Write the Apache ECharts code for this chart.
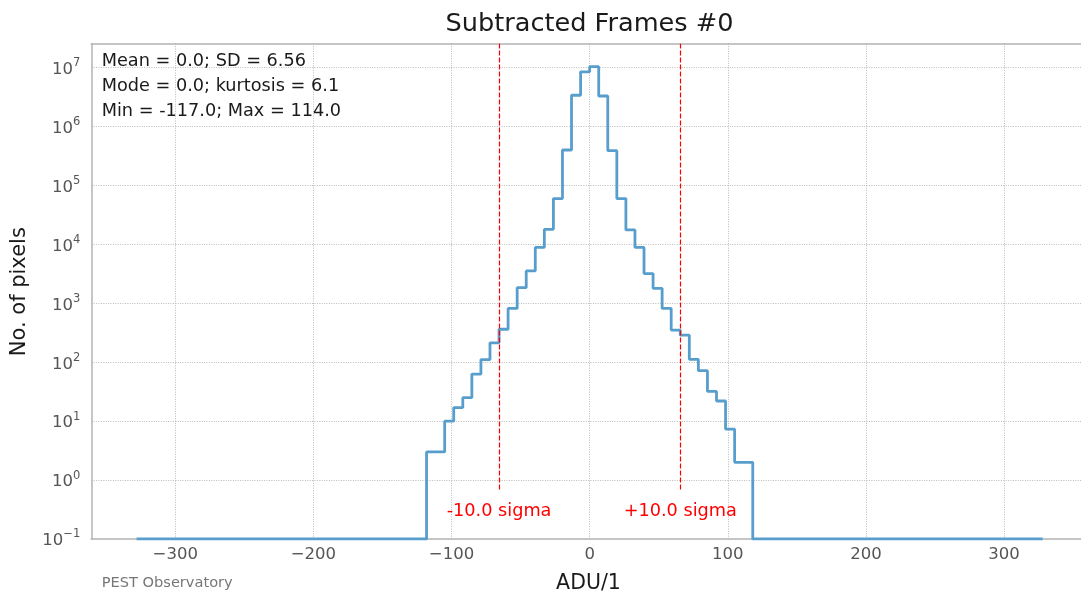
<!DOCTYPE html>
<html>
<head>
<meta charset="utf-8">
<script src="https://cdn.jsdelivr.net/npm/echarts@6/dist/echarts.min.js"></script>
<style>
html,body{margin:0;padding:0;background:#fff;}
#chart{width:1081px;height:594px;}
</style>
</head>
<body>
<div id="chart"></div>
<script>
// Histogram range (±50 sigma) and bin edges of the non-empty region
const histRange = [-328, 328];
const binEdges = [-118.08, -111.52, -104.96, -98.40, -91.84, -85.28, -78.72, -72.16, -65.60, -59.04,
  -52.48, -45.92, -39.36, -32.80, -26.24, -19.68, -13.12, -6.56, 0, 6.56, 13.12, 19.68, 26.24,
  32.80, 39.36, 45.92, 52.48, 59.04, 65.60, 72.16, 78.72, 85.28, 91.84, 98.40, 104.96, 111.52, 118.08];
// Pixel counts per bin
const binCounts = [3, 3, 10, 17, 25, 63, 111, 214, 363, 820, 1840, 3550, 8900, 18000, 60000, 400000,
  3400000, 8500000, 10400000, 3300000, 390000, 60000, 17600, 8900, 3200, 1800, 820, 352, 288, 112,
  72, 32, 22, 7.3, 2, 2];
const emptyLevel = 0.1;           // empty bins drawn on the log floor
const sigmaLines = [-65.6, 65.6]; // ±10 sigma
const sigmaLabels = ['-10.0 sigma', '+10.0 sigma'];
const statsLines = ['Mean = 0.0; SD = 6.56', 'Mode = 0.0; kurtosis = 6.1', 'Min = -117.0; Max = 114.0'];
const xLimits = [-360.8, 360.8];
const yLimits = [0.1, 2.55e7];

const FONT = 'DejaVu Sans';
const AXIS_COLOR = '#b3b3b3';

const stepData = [[histRange[0], emptyLevel]];
for (let i = 0; i < binCounts.length; i++) stepData.push([binEdges[i], binCounts[i]]);
stepData.push([binEdges[binEdges.length - 1], emptyLevel]);
stepData.push([histRange[1], emptyLevel]);

const chart = echarts.init(document.getElementById('chart'), null, {renderer: 'canvas'});

function minus(v) { return v < 0 ? '\u2212' + (-v) : String(v); }

chart.setOption({
  animation: false,
  backgroundColor: '#ffffff',
  grid: {
    left: 91.3, right: -7, top: 43.7, bottom: 55,
    show: false, containLabel: false, outerBoundsMode: 'none'
  },
  xAxis: [{
    type: 'value', min: xLimits[0], max: xLimits[1], position: 'bottom',
    axisLine: {show: true, onZero: false, lineStyle: {color: AXIS_COLOR, width: 1.5}},
    axisTick: {show: false},
    showMinLabel: false, showMaxLabel: false,
    axisLabel: {
      margin: 7, fontSize: 16.5, fontFamily: FONT, color: '#555555',
      formatter: v => (Math.abs(v % 100) < 1e-6 ? minus(Math.round(v)) : '')
    },
    splitLine: {show: true, showMinLine: false, showMaxLine: false,
      lineStyle: {color: '#bababa', width: 1, type: [1, 1.4]}}
  }, {
    type: 'value', min: xLimits[0], max: xLimits[1], position: 'top',
    axisLine: {show: true, onZero: false, lineStyle: {color: AXIS_COLOR, width: 1.5}},
    axisTick: {show: false}, axisLabel: {show: false}, splitLine: {show: false}
  }],
  yAxis: {
    type: 'log', logBase: 10, min: yLimits[0], max: yLimits[1],
    axisLine: {show: true, onZero: false, lineStyle: {color: AXIS_COLOR, width: 1.5}},
    axisTick: {show: false},
    axisLabel: {
      margin: 11, fontFamily: FONT, color: '#555555',
      formatter: v => {
        const l = Math.log10(v), e = Math.round(l);
        if (Math.abs(l - e) > 1e-6) return '';
        return '{b|10}{s|' + minus(e) + '}';
      },
      rich: {
        b: {fontSize: 16.5, fontFamily: FONT, color: '#555555', verticalAlign: 'bottom'},
        s: {fontSize: 11.5, fontFamily: FONT, color: '#555555', verticalAlign: 'top', padding: [0, 0, 9, 0]}
      }
    },
    splitLine: {show: true, showMinLine: false, showMaxLine: false,
      lineStyle: {color: '#bababa', width: 1, type: [1, 1.4]}}
  },
  series: [{
    type: 'line',
    step: 'end',
    xAxisIndex: 0,
    data: stepData,
    symbol: 'none',
    lineStyle: {color: '#589ecd', width: 2.8},
    z: 3,
    markLine: {
      silent: true, symbol: 'none',
      lineStyle: {color: '#ff0000', width: 1.2, type: [5, 2]},
      label: {show: false},
      data: sigmaLines.map(x => [{coord: [x, 0.69]}, {coord: [x, yLimits[1]]}])
    },
    markPoint: {
      silent: true, symbol: 'circle', symbolSize: 0,
      label: {show: true, position: 'inside', color: '#ff0000', fontSize: 17.7, fontFamily: FONT},
      data: sigmaLines.map((x, i) => ({coord: [x, 0.29], label: {formatter: sigmaLabels[i]}}))
    }
  }],
  graphic: [
    {type: 'text', x: 589.5, y: 24.7, style: {text: 'Subtracted Frames #0', fontSize: 25.6, fontFamily: FONT, fill: '#1a1a1a', align: 'center', verticalAlign: 'middle'}},
    {type: 'text', x: 101.7, y: 61.2, z: 10, style: {text: statsLines[0], fontSize: 17.7, fontFamily: FONT, fill: '#1a1a1a', align: 'left', verticalAlign: 'middle'}},
    {type: 'text', x: 101.7, y: 86.3, z: 10, style: {text: statsLines[1], fontSize: 17.7, fontFamily: FONT, fill: '#1a1a1a', align: 'left', verticalAlign: 'middle'}},
    {type: 'text', x: 101.7, y: 111.2, z: 10, style: {text: statsLines[2], fontSize: 17.7, fontFamily: FONT, fill: '#1a1a1a', align: 'left', verticalAlign: 'middle'}},
    {type: 'text', x: 19.5, y: 291.7, rotation: Math.PI / 2, style: {text: 'No. of pixels', fontSize: 21, fontFamily: FONT, fill: '#1a1a1a', align: 'center', verticalAlign: 'middle'}},
    {type: 'text', x: 588.5, y: 583.3, style: {text: 'ADU/1', fontSize: 20.5, fontFamily: FONT, fill: '#1a1a1a', align: 'center', verticalAlign: 'middle'}},
    {type: 'text', x: 101.7, y: 583.3, style: {text: 'PEST Observatory', fontSize: 14.6, fontFamily: FONT, fill: '#777777', align: 'left', verticalAlign: 'middle'}}
  ]
});
</script>
</body>
</html>
